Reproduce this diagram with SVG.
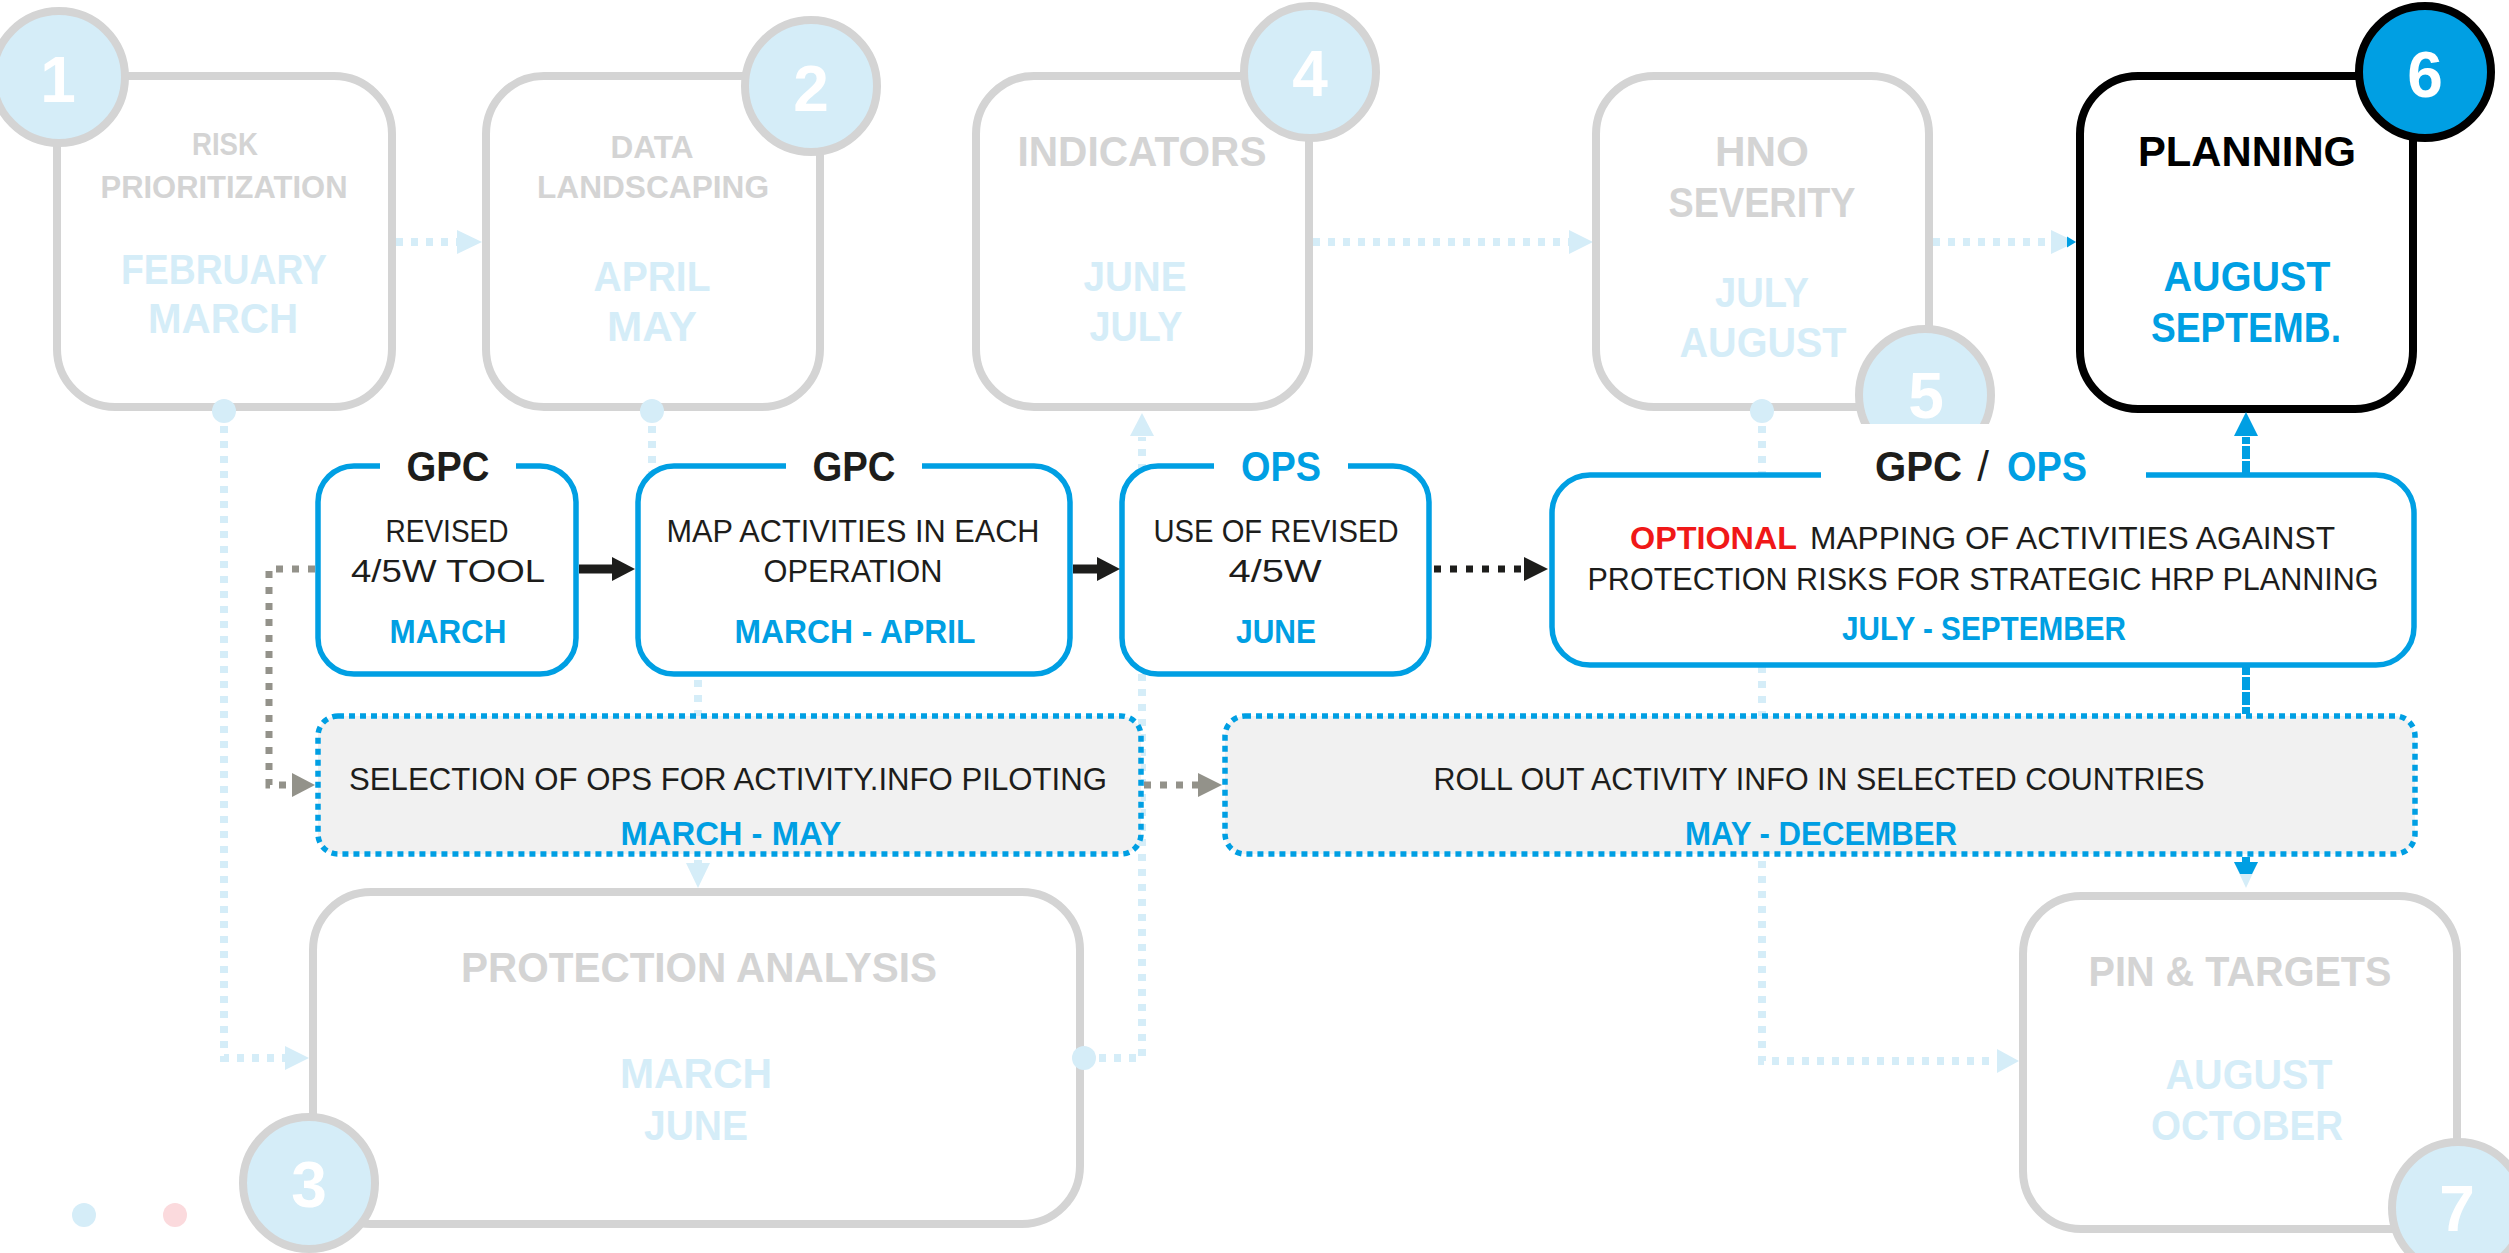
<svg xmlns="http://www.w3.org/2000/svg" width="2509" height="1253" viewBox="0 0 2509 1253">
<style>
text{font-family:"Liberation Sans",Arial,sans-serif;text-anchor:middle}
.b{font-weight:bold}
.gt{fill:#d4d4d4;font-weight:bold}
.lt{fill:#d5edf8;font-weight:bold}
.bl{fill:#009fe3;font-weight:bold}
.k{fill:#1d1d1b}
.num{fill:#ffffff;font-weight:bold;font-size:64px}
.s32{font-size:32px}.s43{font-size:43px}.s42{font-size:42px}.s33{font-size:33px}
.gbox{fill:#ffffff;stroke:#d4d4d4;stroke-width:8}
.circ{fill:#d5edf8;stroke:#d4d4d4;stroke-width:8}
.mbox{fill:#ffffff;stroke:#009fe3;stroke-width:5.5}
.dbox{fill:#f1f1f1;stroke:#009fe3;stroke-width:5.5;stroke-dasharray:6 5}
.lbl{fill:none;stroke:#d5edf8;stroke-width:8;stroke-dasharray:7 8}
.lbh{fill:#d5edf8}
.blu{fill:none;stroke:#009fe3;stroke-width:8;stroke-dasharray:7 8}
.bh{fill:#009fe3}
.gry{fill:none;stroke:#93928a;stroke-width:7;stroke-dasharray:7 9}
.gh{fill:#93928a}
.blk{fill:none;stroke:#1d1d1b;stroke-width:9}
.blkd{fill:none;stroke:#1d1d1b;stroke-width:7;stroke-dasharray:7 9}
.kh{fill:#1d1d1b}
</style>
<rect width="2509" height="1253" fill="#ffffff"/>

<g id="connectors-background">
  <path class="lbl" d="M396 242 H458"/>
  <polygon class="lbh" points="457,230 482,242 457,254"/>
  <path class="lbl" d="M1313 242 H1570"/>
  <polygon class="lbh" points="1569,230 1593,242 1569,254"/>
  <path class="lbl" d="M1933 242 H2052"/>
  <polygon class="lbh" points="2051,230 2076,242 2051,254"/>
  <polygon class="bh" points="2067,236.5 2076,242 2067,247.5"/>
  <path class="lbl" d="M224 411 V1058 H287"/>
  <polygon class="lbh" points="285,1046 309,1058 285,1070"/>
  <path class="lbl" d="M652 411 V600 H698 V864"/>
  <polygon class="lbh" points="686,863 710,863 698,888"/>
  <path class="lbl" d="M1084 1058 H1142 V437"/>
  <polygon class="lbh" points="1130,436 1154,436 1142,413"/>
  <path class="lbl" d="M1762 411 V1061 H1998"/>
  <polygon class="lbh" points="1997,1049 2019,1061 1997,1073"/>
  <path class="blu" d="M2246 437 V864"/>
</g>

<g id="node-1">
  <rect class="gbox" x="57" y="76" width="335" height="331" rx="58"/>
  <text class="gt s32" x="225" y="155" textLength="66" lengthAdjust="spacingAndGlyphs">RISK</text>
  <text class="gt s32" x="224" y="198" textLength="247" lengthAdjust="spacingAndGlyphs">PRIORITIZATION</text>
  <text class="lt s43" x="224" y="284" textLength="206" lengthAdjust="spacingAndGlyphs">FEBRUARY</text>
  <text class="lt s43" x="223" y="333" textLength="150" lengthAdjust="spacingAndGlyphs">MARCH</text>
  <circle class="circ" cx="59" cy="77" r="66"/>
  <text class="num" x="58" y="102">1</text>
</g>
<g id="node-2">
  <rect class="gbox" x="486" y="76" width="334" height="331" rx="58"/>
  <text class="gt s32" x="652" y="158" textLength="83" lengthAdjust="spacingAndGlyphs">DATA</text>
  <text class="gt s32" x="653" y="198" textLength="232" lengthAdjust="spacingAndGlyphs">LANDSCAPING</text>
  <text class="lt s43" x="652" y="291" textLength="117" lengthAdjust="spacingAndGlyphs">APRIL</text>
  <text class="lt s43" x="652" y="341" textLength="90" lengthAdjust="spacingAndGlyphs">MAY</text>
  <circle class="circ" cx="811" cy="86" r="66"/>
  <text class="num" x="811" y="111">2</text>
</g>
<g id="node-4">
  <rect class="gbox" x="976" y="76" width="333" height="331" rx="58"/>
  <text class="gt s43" x="1142" y="166" textLength="249" lengthAdjust="spacingAndGlyphs">INDICATORS</text>
  <text class="lt s43" x="1135" y="291" textLength="103" lengthAdjust="spacingAndGlyphs">JUNE</text>
  <text class="lt s43" x="1136" y="341" textLength="93" lengthAdjust="spacingAndGlyphs">JULY</text>
  <circle class="circ" cx="1310" cy="72" r="66"/>
  <text class="num" x="1310" y="96">4</text>
</g>
<g id="node-5">
  <rect class="gbox" x="1596" y="76" width="333" height="331" rx="58"/>
  <text class="gt s43" x="1762" y="166" textLength="94" lengthAdjust="spacingAndGlyphs">HNO</text>
  <text class="gt s43" x="1762" y="217" textLength="187" lengthAdjust="spacingAndGlyphs">SEVERITY</text>
  <text class="lt s43" x="1762" y="307" textLength="94" lengthAdjust="spacingAndGlyphs">JULY</text>
  <text class="lt s43" x="1763" y="357" textLength="167" lengthAdjust="spacingAndGlyphs">AUGUST</text>
  <circle class="circ" cx="1925" cy="395" r="66"/>
  <text class="num" x="1926" y="418">5</text>
</g>
<g id="node-6">
  <rect x="2080" y="76" width="333" height="333" rx="58" fill="#ffffff" stroke="#000000" stroke-width="8"/>
  <text class="b s43" x="2247" y="166" textLength="218" lengthAdjust="spacingAndGlyphs" fill="#000000">PLANNING</text>
  <text class="bl s43" x="2247" y="291" textLength="167" lengthAdjust="spacingAndGlyphs">AUGUST</text>
  <text class="bl s43" x="2246" y="342" textLength="190" lengthAdjust="spacingAndGlyphs">SEPTEMB.</text>
  <circle cx="2425" cy="72" r="66" fill="#009fe3" stroke="#000000" stroke-width="8"/>
  <text class="num" x="2425" y="97">6</text>
</g>
<g id="node-3">
  <rect class="gbox" x="313" y="892" width="767" height="332" rx="58"/>
  <text class="gt s43" x="699" y="982" textLength="476" lengthAdjust="spacingAndGlyphs">PROTECTION ANALYSIS</text>
  <text class="lt s43" x="696" y="1088" textLength="152" lengthAdjust="spacingAndGlyphs">MARCH</text>
  <text class="lt s43" x="696" y="1140" textLength="104" lengthAdjust="spacingAndGlyphs">JUNE</text>
  <circle class="circ" cx="309" cy="1183" r="66"/>
  <text class="num" x="309" y="1207">3</text>
</g>
<g id="node-7">
  <rect class="gbox" x="2023" y="896" width="434" height="333" rx="58"/>
  <text class="gt s43" x="2240" y="986" textLength="303" lengthAdjust="spacingAndGlyphs">PIN &amp; TARGETS</text>
  <text class="lt s43" x="2249" y="1089" textLength="167" lengthAdjust="spacingAndGlyphs">AUGUST</text>
  <text class="lt s43" x="2247" y="1140" textLength="192" lengthAdjust="spacingAndGlyphs">OCTOBER</text>
  <circle class="circ" cx="2458" cy="1208" r="66"/>
  <text class="num" x="2457" y="1231">7</text>
</g>

<g id="node-revised-tool">
  <rect class="mbox" x="318" y="466" width="258" height="208" rx="36"/>
  <rect x="380" y="440" width="136" height="50" fill="#ffffff"/>
  <text class="b k s42" x="448" y="481" textLength="83" lengthAdjust="spacingAndGlyphs">GPC</text>
  <text class="k s32" x="447" y="542" textLength="123" lengthAdjust="spacingAndGlyphs">REVISED</text>
  <text class="k s32" x="448" y="582" textLength="194" lengthAdjust="spacingAndGlyphs">4/5W TOOL</text>
  <text class="bl s33" x="448" y="643" textLength="117" lengthAdjust="spacingAndGlyphs">MARCH</text>
</g>
<g id="node-map-activities">
  <rect class="mbox" x="638" y="466" width="432" height="208" rx="36"/>
  <rect x="786" y="440" width="136" height="50" fill="#ffffff"/>
  <text class="b k s42" x="854" y="481" textLength="83" lengthAdjust="spacingAndGlyphs">GPC</text>
  <text class="k s32" x="853" y="542" textLength="373" lengthAdjust="spacingAndGlyphs">MAP ACTIVITIES IN EACH</text>
  <text class="k s32" x="853" y="582" textLength="179" lengthAdjust="spacingAndGlyphs">OPERATION</text>
  <text class="bl s33" x="855" y="643" textLength="241" lengthAdjust="spacingAndGlyphs">MARCH - APRIL</text>
</g>
<g id="node-use-revised">
  <rect class="mbox" x="1122" y="466" width="307" height="208" rx="36"/>
  <rect x="1214" y="440" width="134" height="50" fill="#ffffff"/>
  <text class="bl s42" x="1281" y="481" textLength="80" lengthAdjust="spacingAndGlyphs">OPS</text>
  <text class="k s32" x="1276" y="542" textLength="245" lengthAdjust="spacingAndGlyphs">USE OF REVISED</text>
  <text class="k s32" x="1275" y="582" textLength="93" lengthAdjust="spacingAndGlyphs">4/5W</text>
  <text class="bl s33" x="1276" y="643" textLength="80" lengthAdjust="spacingAndGlyphs">JUNE</text>
</g>
<g id="node-optional-mapping">
  <rect class="mbox" x="1552" y="475" width="862" height="190" rx="38"/>
  <rect x="1821" y="424" width="325" height="66" fill="#ffffff"/>
  <text class="b k s42" x="1875" y="481" textLength="87" lengthAdjust="spacingAndGlyphs" style="text-anchor:start">GPC</text>
  <text class="k s42" x="1983" y="481">/</text>
  <text class="bl s42" x="2007" y="481" textLength="80" lengthAdjust="spacingAndGlyphs" style="text-anchor:start">OPS</text>
  <text class="b s32" x="1630" y="549" textLength="167" lengthAdjust="spacingAndGlyphs" fill="#f01818" style="text-anchor:start">OPTIONAL</text>
  <text class="k s32" x="1810" y="549" textLength="525" lengthAdjust="spacingAndGlyphs" style="text-anchor:start">MAPPING OF ACTIVITIES AGAINST</text>
  <text class="k s32" x="1983" y="590" textLength="791" lengthAdjust="spacingAndGlyphs">PROTECTION RISKS FOR STRATEGIC HRP PLANNING</text>
  <text class="bl s33" x="1984" y="640" textLength="284" lengthAdjust="spacingAndGlyphs">JULY - SEPTEMBER</text>
</g>
<g id="node-selection">
  <rect class="dbox" x="318" y="716" width="823" height="138" rx="20"/>
  <text class="k s32" x="728" y="790" textLength="758" lengthAdjust="spacingAndGlyphs">SELECTION OF OPS FOR ACTIVITY.INFO PILOTING</text>
  <text class="bl s33" x="731" y="845" textLength="221" lengthAdjust="spacingAndGlyphs">MARCH - MAY</text>
</g>
<g id="node-rollout">
  <rect class="dbox" x="1225" y="716" width="1190" height="138" rx="20"/>
  <text class="k s32" x="1819" y="790" textLength="771" lengthAdjust="spacingAndGlyphs">ROLL OUT ACTIVITY INFO IN SELECTED COUNTRIES</text>
  <text class="bl s33" x="1821" y="845" textLength="272" lengthAdjust="spacingAndGlyphs">MAY - DECEMBER</text>
</g>

<g id="connectors">
  <circle cx="224" cy="411" r="12" fill="#d5edf8"/>
  <circle cx="652" cy="411" r="12" fill="#d5edf8"/>
  <circle cx="1762" cy="411" r="12" fill="#d5edf8"/>
  <circle cx="1084" cy="1058" r="12" fill="#d5edf8"/>
  <path class="blk" d="M579 569 H613"/>
  <polygon class="kh" points="612,557 635,569 612,581"/>
  <path class="blk" d="M1073 569 H1098"/>
  <polygon class="kh" points="1097,557 1120,569 1097,581"/>
  <path class="blkd" d="M1434 569 H1522"/>
  <polygon class="kh" points="1524,557 1548,569 1524,581"/>
  <path class="gry" d="M315 569 H269 V785 H293"/>
  <polygon class="gh" points="292,773 315,785 292,797"/>
  <path class="gry" d="M1144 785 H1200"/>
  <polygon class="gh" points="1198,773 1222,785 1198,797"/>
  <polygon class="bh" points="2234,436 2258,436 2246,412"/>
  <path class="blu" d="M2246 446 V472"/>
  <path class="blu" d="M2246 668 V713"/>
  <polygon class="lbh" points="2234,862 2258,862 2246,888"/>
  <polygon class="bh" points="2234,862 2258,862 2252,874 2240,874"/>
</g>

<g id="legend">
  <circle cx="84" cy="1215" r="12" fill="#d5edf8"/>
  <circle cx="175" cy="1215" r="12" fill="#fbdadd"/>
</g>
</svg>
